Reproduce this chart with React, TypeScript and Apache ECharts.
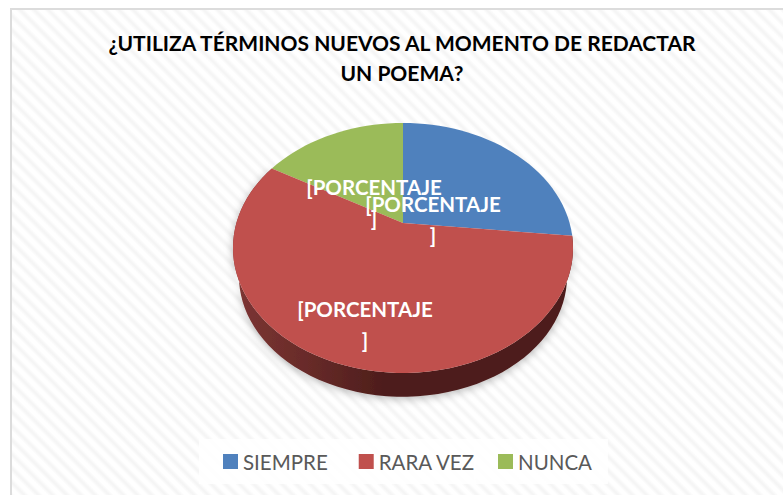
import React, { useEffect, useRef } from "react";
import * as echarts from "echarts";

const TITLE = "¿UTILIZA TÉRMINOS NUEVOS AL MOMENTO DE REDACTAR\nUN POEMA?";
const CATEGORIES = ["SIEMPRE", "RARA VEZ", "NUNCA"];
const VALUES = [8, 17, 5];
const COLORS = ["#4f81bd", "#c0504d", "#9bbb59"];
const LABEL_TEXT = "[PORCENTAJE\n]";
// Label centres relative to the pie apex
const LABEL_OFFSETS = [[30, -4], [-38, 101], [-29, -21]];

const APEX = { x: 403, y: 223 };
const RX = 166.6, RY = 120, K = 0.2, DEPTH = 29;
const STEPS = 120;

// A point of the tilted disc for an angle measured clockwise from the top
function project(angle: number, scale = 1) {
  const u = Math.sin(angle), v = Math.cos(angle);
  const w = 1 + K * v;
  return [APEX.x + (RX * scale * u) / w, APEX.y - (RY * scale * v) / w];
}

function arcPoints(a0: number, a1: number, dy = 0, scale = 1) {
  const n = Math.max(2, Math.ceil((STEPS * (a1 - a0)) / (2 * Math.PI)));
  const pts: number[][] = [];
  for (let i = 0; i <= n; i++) {
    const p = project(a0 + ((a1 - a0) * i) / n, scale);
    pts.push([p[0], p[1] + dy]);
  }
  return pts;
}

const TOTAL = VALUES.reduce((s, v) => s + v, 0);

function makeSeries(idx: number) {
  return {
    type: "custom",
    name: CATEGORIES[idx],
    coordinateSystem: "none",
    itemStyle: { color: COLORS[idx] },
    silent: true,
    data: [[VALUES[idx]]],
    z: idx === 1 ? 3 : 2,
    renderItem: (_p: any, api: any) => {
      const before = VALUES.slice(0, idx).reduce((s, v) => s + v, 0);
      const a0 = (before / TOTAL) * 2 * Math.PI;
      const a1 = ((before + api.value(0)) / TOTAL) * 2 * Math.PI;
      const top = arcPoints(a0, a1);
      const bottom = arcPoints(a0, a1, DEPTH, 0.965).reverse();
      const children: any[] = [];
      if (idx === 1) {
        children.push({
          type: "polygon",
          shape: { points: [...top, ...bottom] },
          style: {
            fill: new echarts.graphic.LinearGradient(0, 0, 1, 0, [
              { offset: 0, color: "#7d3533" },
              { offset: 0.2, color: "#6a2c2a" },
              { offset: 0.45, color: "#4d1d1b" },
              { offset: 1, color: "#4d1c1b" },
            ]),
            shadowBlur: 8,
            shadowColor: "rgba(0,0,0,0.28)",
            shadowOffsetY: 2,
          },
        });
      }
      children.push({
        type: "polygon",
        shape: { points: [[APEX.x, APEX.y], ...top] },
        style: { fill: COLORS[idx] },
      });
      return { type: "group", children };
    },
  };
}

function makeLabels() {
  return {
    type: "custom",
    name: "labels",
    coordinateSystem: "none",
    silent: true,
    z: 5,
    data: CATEGORIES.map((_, i) => [i]),
    renderItem: (_p: any, api: any) => {
      const o = LABEL_OFFSETS[api.value(0)];
      return {
        type: "text",
        x: APEX.x + o[0],
        y: APEX.y + o[1],
        style: {
          text: LABEL_TEXT,
          fill: "#ffffff",
          font: "bold 20.5px Lato",
          lineHeight: 31,
          align: "center",
          verticalAlign: "middle",
        },
      };
    },
  };
}

export default function App() {
  const ref = useRef<HTMLDivElement>(null);
  useEffect(() => {
    const chart = echarts.init(ref.current!, null, { renderer: "svg" });
    const legendBase = {
      top: 439,
      backgroundColor: "rgba(255,255,255,0.85)",
      icon: "rect",
      itemWidth: 15,
      itemHeight: 15,
      selectedMode: false,
      textStyle: { fontFamily: "Lato", fontSize: 20.5, color: "#595959" },
    };
    chart.setOption({
      animation: false,
      title: {
        text: TITLE,
        left: 397,
        top: 22,
        textAlign: "center",
        textStyle: { fontFamily: "Lato", fontWeight: "bold", fontSize: 21, lineHeight: 30, color: "#000000" },
      },
      legend: [
        { ...legendBase, data: CATEGORIES.slice(0, 2), left: 199, padding: [12, 0, 12, 24], itemGap: 31 },
        { ...legendBase, data: CATEGORIES.slice(2), left: 474, padding: [12, 16, 12, 24] },
      ],
      series: [makeSeries(0), makeSeries(2), makeSeries(1), makeLabels()],
    });
    return () => chart.dispose();
  }, []);
  return (
    <div
      style={{
        position: "absolute",
        left: 0,
        top: 0,
        width: 783,
        height: 495,
        background: "#ffffff",
        overflow: "hidden",
      }}
    >
      <div
        style={{
          position: "absolute",
          left: 10,
          top: 8,
          width: 790,
          height: 500,
          boxSizing: "border-box",
          border: "2px solid #dcdcdc",
          background:
            "repeating-linear-gradient(45deg, #ffffff 0px, #ffffff 3px, #f5f5f5 6px, #f5f5f5 7px, #ffffff 10px)",
        }}
      />
      <div ref={ref} style={{ position: "absolute", left: 0, top: 0, width: 783, height: 495 }} />
    </div>
  );
}
